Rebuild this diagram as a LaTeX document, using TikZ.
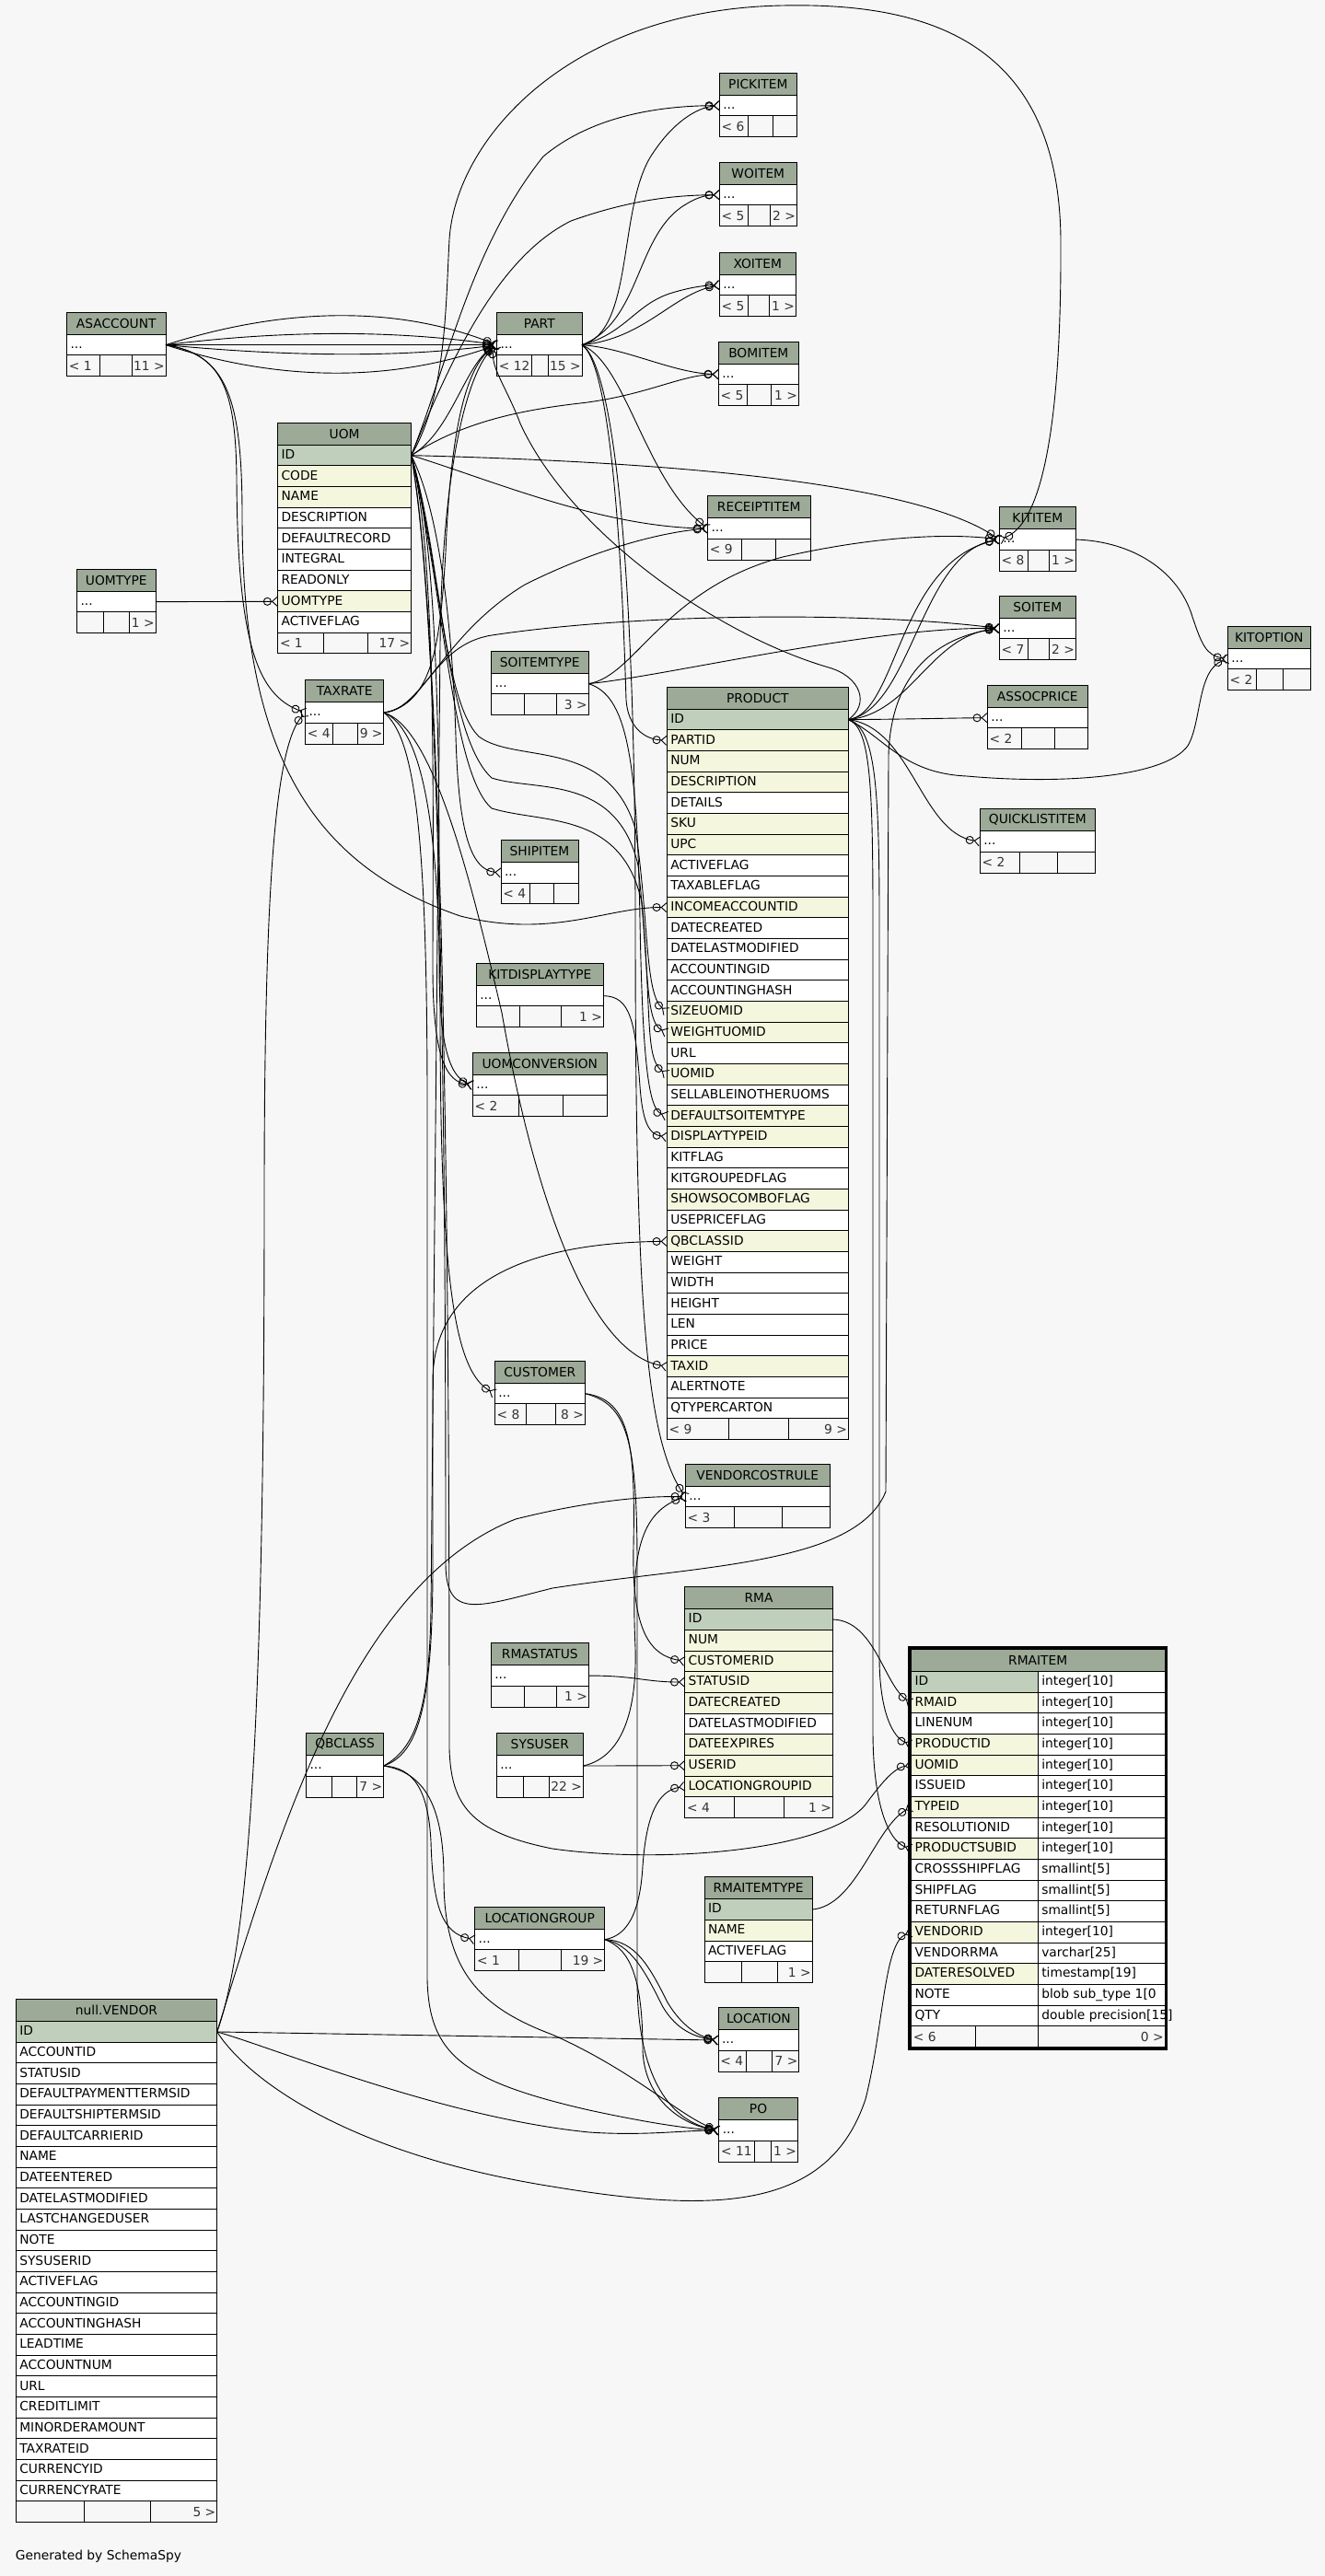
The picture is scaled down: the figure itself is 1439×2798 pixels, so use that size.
\documentclass[tikz,border=0pt]{standalone}
\usepackage{fontspec}
\setmainfont{DejaVu Sans}
\usetikzlibrary{arrows.meta}
\definecolor{pagebg}{HTML}{F7F7F7}
\definecolor{headbg}{HTML}{9CAA97}
\definecolor{keybg}{HTML}{BFCFBB}
\definecolor{idxbg}{HTML}{F4F7DE}
\definecolor{foottext}{HTML}{333333}

\newcommand{\erfont}{\fontsize{6.9pt}{8pt}\selectfont}
\newcommand{\erdots}{...}
% footer texts of a table
\newcommand{\erlr}[2]{%
  \node[footlbl, anchor=west] (\ername-fl) at (\erx+2,\erfy+11.333) {#1};
  \node[footlbl, anchor=east] (\ername-fr) at (\erx+\erw-1,\erfy+11.333) {#2};}
% name, x, y, width, title, rows, divider 1, divider 2, {left}{right}
\newcommand{\ertable}[9]{%
  \def\ername{#1}\def\erx{#2}\def\erw{#4}%
  \pgfmathsetmacro\ertw{#4*0.5-4}%
  \node[headcell, minimum width=#4*0.5pt] (#1) at (#2,#3) {#5};
  \foreach \kind/\txt [count=\i] in {#6}{%
    \node[cell, fill=\kind, text width=\ertw pt] (#1-\i) at (#2,#3+24+\i*22.667-22.667) {\txt};
    \xdef\ern{\i}}
  \pgfmathsetmacro\erfy{#3+24+\ern*22.667}%
  \node[footcell, minimum width=#4*0.5pt] (#1-ft) at (#2,\erfy) {};
  \draw[rule] (#7,\erfy) -- (#7,\erfy+22.667);
  \draw[rule] (#8,\erfy) -- (#8,\erfy+22.667);
  \erlr#9}

\begin{document}
\begin{tikzpicture}[x=0.5pt, y=-0.5pt, font=\erfont,
  headcell/.style={draw, fill=headbg, anchor=north west, minimum height=12pt,
                   inner sep=0pt, outer sep=0pt, line width=0.5pt},
  cell/.style={draw, anchor=north west, inner xsep=2pt, inner ysep=0pt,
               minimum height=11.333pt, text height=5.2pt, text depth=1.4pt,
               align=left, outer sep=0pt, line width=0.5pt},
  footcell/.style={draw, fill=pagebg, anchor=north west, minimum height=11.333pt,
                   inner sep=0pt, outer sep=0pt, line width=0.5pt},
  footlbl/.style={inner sep=0pt, text=foottext},
  rule/.style={line width=0.5pt},
  fk/.style={line width=0.45pt,
    -{Circle[open,length=4.5pt,width=4.5pt] Straight Barb[reversed,length=2.8pt,width=5pt]}}]

\fill[pagebg] (0,0) rectangle (1439,2798);
\useasboundingbox (0,0) rectangle (1439,2798);

% tables
\ertable{asaccount}{72.5}{339.3}{107.5}{ASACCOUNT}{white/\erdots}{108.4}{143.7}{{< 1}{11 >}}
\ertable{part}{539.5}{339.3}{92.5}{PART}{white/\erdots}{577.6}{595.5}{{< 12}{15 >}}
\ertable{pickitem}{781.3}{79.3}{84}{PICKITEM}{white/\erdots}{812.3}{839.3}{{< 6}{}}
\ertable{woitem}{781.3}{176.3}{84}{WOITEM}{white/\erdots}{812.3}{836.3}{{< 5}{2 >}}
\ertable{xoitem}{781.3}{274.3}{83}{XOITEM}{white/\erdots}{812.3}{835.7}{{< 5}{1 >}}
\ertable{bomitem}{780.3}{371.3}{87}{BOMITEM}{white/\erdots}{811.3}{837.3}{{< 5}{1 >}}
\ertable{uom}{301.6}{459.3}{145}{UOM}{keybg/ID, idxbg/CODE, idxbg/NAME, white/DESCRIPTION,
  white/DEFAULTRECORD, white/INTEGRAL, white/READONLY, idxbg/UOMTYPE, white/ACTIVEFLAG}{351}{399.4}{{< 1}{17 >}}
\ertable{receiptitem}{768.5}{538.7}{111.5}{RECEIPTITEM}{white/\erdots}{805}{842}{{< 9}{}}
\ertable{kititem}{1085.3}{550.7}{83}{KITITEM}{white/\erdots}{1116.7}{1139.3}{{< 8}{1 >}}
\ertable{uomtype}{83.6}{618.3}{85.4}{UOMTYPE}{white/\erdots}{112.5}{140.5}{{}{1 >}}
\ertable{soitem}{1085.3}{647.3}{83}{SOITEM}{white/\erdots}{1116.7}{1139.3}{{< 7}{2 >}}
\ertable{kitoption}{1333.3}{680.3}{90}{KITOPTION}{white/\erdots}{1364.3}{1393.3}{{< 2}{}}
\ertable{soitemtype}{533.5}{707.3}{105.5}{SOITEMTYPE}{white/\erdots}{569.3}{604.2}{{}{3 >}}
\ertable{taxrate}{331.5}{738.7}{85.4}{TAXRATE}{white/\erdots}{361.3}{388.4}{{< 4}{9 >}}
\ertable{assocprice}{1072.3}{744.3}{109}{ASSOCPRICE}{white/\erdots}{1109.3}{1145.7}{{< 2}{}}
\ertable{product}{724.3}{746.3}{197}{PRODUCT}{keybg/ID, idxbg/PARTID, idxbg/NUM, idxbg/DESCRIPTION,
  white/DETAILS, idxbg/SKU, idxbg/UPC, white/ACTIVEFLAG, white/TAXABLEFLAG, idxbg/INCOMEACCOUNTID,
  white/DATECREATED, white/DATELASTMODIFIED, white/ACCOUNTINGID, white/ACCOUNTINGHASH,
  idxbg/SIZEUOMID, idxbg/WEIGHTUOMID, white/URL, idxbg/UOMID, white/SELLABLEINOTHERUOMS,
  idxbg/DEFAULTSOITEMTYPE, idxbg/DISPLAYTYPEID, white/KITFLAG, white/KITGROUPEDFLAG,
  idxbg/SHOWSOCOMBOFLAG, white/USEPRICEFLAG, idxbg/QBCLASSID, white/WEIGHT, white/WIDTH,
  white/HEIGHT, white/LEN, white/PRICE, idxbg/TAXID, white/ALERTNOTE, white/QTYPERCARTON}{791.3}{856.7}{{< 9}{9 >}}
\ertable{quicklistitem}{1064.3}{878.7}{125}{QUICKLISTITEM}{white/\erdots}{1107.3}{1148.7}{{< 2}{}}
\ertable{shipitem}{544}{912.6}{84}{SHIPITEM}{white/\erdots}{575.4}{601}{{< 4}{}}
\ertable{kitdisplaytype}{517.3}{1046.3}{138}{KITDISPLAYTYPE}{white/\erdots}{564.3}{609.3}{{}{1 >}}
\ertable{uomconversion}{513.3}{1143.3}{146}{UOMCONVERSION}{white/\erdots}{563.3}{611.7}{{< 2}{}}
\ertable{customer}{537.3}{1478.3}{98}{CUSTOMER}{white/\erdots}{571.7}{603.3}{{< 8}{8 >}}
\ertable{vendorcostrule}{744.3}{1590.3}{157}{VENDORCOSTRULE}{white/\erdots}{797}{849.3}{{< 3}{}}
\ertable{rma}{743.7}{1723.7}{160.6}{RMA}{keybg/ID, idxbg/NUM, idxbg/CUSTOMERID, idxbg/STATUSID,
  idxbg/DATECREATED, white/DATELASTMODIFIED, idxbg/DATEEXPIRES, idxbg/USERID, idxbg/LOCATIONGROUPID}{797}{851.3}{{< 4}{1 >}}
\ertable{rmastatus}{533.3}{1784.7}{106}{RMASTATUS}{white/\erdots}{569.3}{604.3}{{}{1 >}}
\ertable{sysuser}{539.3}{1882.7}{94}{SYSUSER}{white/\erdots}{568.3}{596.7}{{}{22 >}}
\ertable{qbclass}{332.6}{1882.7}{84}{QBCLASS}{white/\erdots}{360.2}{387.4}{{}{7 >}}
\ertable{rmaitemtype}{765}{2038.7}{117}{RMAITEMTYPE}{keybg/ID, idxbg/NAME, white/ACTIVEFLAG}{805}{844.4}{{}{1 >}}
\ertable{locationgroup}{515.7}{2071.3}{141}{LOCATIONGROUP}{white/\erdots}{563.6}{609.6}{{< 1}{19 >}}
\ertable{vendor}{17.3}{2171.6}{218.4}{null.VENDOR}{keybg/ID, white/ACCOUNTID, white/STATUSID,
  white/DEFAULTPAYMENTTERMSID, white/DEFAULTSHIPTERMSID, white/DEFAULTCARRIERID, white/NAME,
  white/DATEENTERED, white/DATELASTMODIFIED, white/LASTCHANGEDUSER, white/NOTE, white/SYSUSERID,
  white/ACTIVEFLAG, white/ACCOUNTINGID, white/ACCOUNTINGHASH, white/LEADTIME, white/ACCOUNTNUM,
  white/URL, white/CREDITLIMIT, white/MINORDERAMOUNT, white/TAXRATEID, white/CURRENCYID,
  white/CURRENCYRATE}{91.3}{163.3}{{}{5 >}}
\ertable{location}{780}{2180.7}{87.8}{LOCATION}{white/\erdots}{810}{838.3}{{< 4}{7 >}}
\ertable{po}{780.8}{2278.7}{85.5}{PO}{white/\erdots}{819.5}{837.2}{{< 11}{1 >}}

% RMAITEM, the table in focus
\node[headcell, minimum width=137.75pt] (rmaitem) at (989.5,1791.5) {RMAITEM};
\foreach \kind/\txt/\dtype [count=\i] in {keybg/ID/integer[10], idxbg/RMAID/integer[10],
    white/LINENUM/integer[10], idxbg/PRODUCTID/integer[10], idxbg/UOMID/integer[10],
    white/ISSUEID/integer[10], idxbg/TYPEID/integer[10], white/RESOLUTIONID/integer[10],
    idxbg/PRODUCTSUBID/integer[10], white/CROSSSHIPFLAG/smallint[5], white/SHIPFLAG/smallint[5],
    white/RETURNFLAG/smallint[5], idxbg/VENDORID/integer[10], white/VENDORRMA/varchar[25],
    idxbg/DATERESOLVED/timestamp[19], white/NOTE/blob~sub\_type~1[0, white/QTY/double~precision[15]}{
  \node[cell, fill=\kind, text width=64.9pt] (rmaitem-\i) at (989.5,1815.5+\i*22.667-22.667) {\txt};
  \node[cell, fill=white, text width=64.85pt] (rmaitem-\i-t) at (1127.3,1815.5+\i*22.667-22.667) {\mbox{\dtype}};}
\node[footcell, minimum width=137.75pt] (rmaitem-ft) at (989.5,2200.8) {};
\draw[rule] (1059.3,2200.8) -- (1059.3,2223.5);
\draw[rule] (1127.3,2200.8) -- (1127.3,2223.5);
\node[footlbl, anchor=west] (rmaitem-fl) at (991.5,2212.2) {< 6};
\node[footlbl, anchor=east] (rmaitem-fr) at (1264,2212.2) {0 >};
\draw[line width=1.5pt] (987.8,1789.8) rectangle (1266.7,2225.2);

% ASACCOUNT
\draw[fk] (asaccount-1.east) .. controls (320,330) and (440,335) .. (part-1.west);
\draw[fk] (asaccount-1.east) .. controls (320,357) and (440,360) .. (part-1.west);
\draw[fk] (asaccount-1.east) -- (part-1.west);
\draw[fk] (asaccount-1.east) .. controls (320,388) and (440,388) .. (part-1.west);
\draw[fk] (asaccount-1.east) .. controls (320,420) and (440,410) .. (part-1.west);
\draw[fk] (asaccount-1.east) .. controls (240,385) and (256,420) .. (257,520)
  .. controls (258,700) and (280,755) .. (taxrate-1.west);
\draw[fk] (asaccount-1.east) .. controls (245,385) and (263,430) .. (263,560)
  .. controls (263,820) and (340,940) .. (500,995) .. controls (600,1020) and (660,985) .. (product-10.west);

% PART
\draw[fk] (part-1.east) .. controls (690,360) and (670,220) .. (710,165)
  .. controls (730,135) and (755,117) .. (pickitem-1.west);
\draw[fk] (part-1.east) .. controls (695,350) and (690,260) .. (740,225)
  .. controls (755,215) and (765,212) .. (woitem-1.west);
\draw[fk] (part-1.east) .. controls (700,368) and (730,320) .. (xoitem-1.west);
\draw[fk] (part-1.east) .. controls (680,362) and (690,330) .. (730,318)
  .. controls (750,312) and (765,310) .. (xoitem-1.west);
\draw[fk] (part-1.east) .. controls (680,378) and (730,405) .. (bomitem-1.west);
\draw[fk] (part-1.east) .. controls (680,395) and (700,520) .. (receiptitem-1.west);
\draw[fk] (part-1.east) .. controls (670,400) and (678,700) .. (680,760)
  .. controls (682,790) and (700,803) .. (product-2.west);
\draw[fk] (part-1.east) .. controls (665,395) and (690,600) .. (690,1000)
  .. controls (690,1400) and (700,1560) .. (vendorcostrule-1.west);

% UOM
\draw[fk] (uomtype-1.east) -- (uom-8.west);
\draw[fk] (uom-1.east) .. controls (490,470) and (505,395) .. (part-1.west);
\draw[fk] (uom-1.east) .. controls (485,400) and (510,270) .. (590,170)
  .. controls (640,128) and (710,115) .. (pickitem-1.west);
\draw[fk] (uom-1.east) .. controls (490,390) and (540,280) .. (620,240)
  .. controls (690,215) and (740,212) .. (woitem-1.west);
\draw[fk] (uom-1.east) .. controls (500,460) and (560,446) .. (630,438)
  .. controls (700,430) and (740,407) .. (bomitem-1.west);
\draw[fk] (uom-1.east) .. controls (650,500) and (980,515) .. (kititem-1.west);
\draw[fk] (uom-1.east) .. controls (530,520) and (650,572) .. (receiptitem-1.west);
\draw[fk] (uom-1.east) .. controls (485,430) and (484,330) .. (488,260)
  .. controls (495,150) and (620,10) .. (850,6) .. controls (1000,3) and (1150,40) .. (1152,260)
  .. controls (1153,470) and (1130,570) .. (kititem-1.west);
\draw[fk] (uom-1.east) .. controls (480,560) and (492,700) .. (495,800)
  .. controls (498,900) and (510,945) .. (shipitem-1.west);
\draw[fk] (uom-1.east) .. controls (475,600) and (470,900) .. (470,1050)
  .. controls (470,1150) and (485,1175) .. (uomconversion-1.west);
\draw[fk] (uom-1.east) .. controls (480,600) and (477,900) .. (477,1050)
  .. controls (477,1140) and (490,1170) .. (uomconversion-1.west);
\draw[fk] (uom-1.east) .. controls (478,600) and (480,760) .. (520,800)
  .. controls (560,830) and (660,800) .. (690,900) .. controls (705,1000) and (700,1080) .. (product-15.west);
\draw[fk] (uom-1.east) .. controls (480,620) and (485,800) .. (534,845)
  .. controls (580,860) and (670,840) .. (693,940) .. controls (705,1050) and (700,1110) .. (product-16.west);
\draw[fk] (uom-1.east) .. controls (482,640) and (490,840) .. (534,878)
  .. controls (590,895) and (675,880) .. (697,980) .. controls (708,1100) and (700,1150) .. (product-18.west);
\draw[fk] (uom-1.east) .. controls (485,700) and (488,1500) .. (488,1900)
  .. controls (490,1960) and (510,1990) .. (600,2008) .. controls (720,2025) and (900,2010) .. (940,1960)
  .. controls (955,1940) and (970,1920) .. (rmaitem-5.west);
\draw[fk] (uom-1.east) .. controls (483,700) and (484,1400) .. (484,1700)
  .. controls (485,1760) and (520,1745) .. (600,1725) .. controls (760,1700) and (930,1700) .. (962,1620)
  -- (965,820) .. controls (968,720) and (1030,690) .. (soitem-1.west);

% TAXRATE
\draw[fk] (taxrate-1.east) .. controls (470,765) and (478,700) .. (484,600)
  .. controls (490,450) and (510,395) .. (part-1.west);
\draw[fk] (taxrate-1.east) .. controls (470,790) and (510,950) .. (545,1100)
  .. controls (580,1300) and (640,1470) .. (product-32.west);
\draw[fk] (taxrate-1.east) .. controls (460,770) and (470,700) .. (534,690)
  .. controls (700,665) and (950,665) .. (soitem-1.west);
\draw[fk] (taxrate-1.east) .. controls (460,770) and (480,690) .. (570,635)
  .. controls (650,595) and (720,578) .. (receiptitem-1.west);
\draw[fk] (taxrate-1.east) .. controls (455,790) and (478,880) .. (478,1100)
  .. controls (478,1400) and (495,1490) .. (customer-1.west);
\draw[fk] (taxrate-1.east) .. controls (450,800) and (464,900) .. (464,1200) -- (464,2150)
  .. controls (466,2230) and (500,2260) .. (640,2292) .. controls (700,2305) and (745,2312) .. (po-1.west);

% SOITEMTYPE, KITDISPLAYTYPE
\draw[fk] (soitemtype-1.east) .. controls (720,735) and (950,680) .. (soitem-1.west);
\draw[fk] (soitemtype-1.east) .. controls (690,735) and (720,640) .. (850,605)
  .. controls (960,580) and (1040,580) .. (kititem-1.west);
\draw[fk] (soitemtype-1.east) .. controls (680,755) and (692,820) .. (695,1000)
  .. controls (698,1160) and (705,1205) .. (product-20.west);
\draw[fk] (kitdisplaytype-1.east) .. controls (685,1082) and (690,1110) .. (695,1180)
  .. controls (698,1220) and (705,1232) .. (product-21.west);

% PRODUCT
\draw[fk] (product-1.east) .. controls (975,775) and (975,610) .. (kititem-1.west);
\draw[fk] (product-1.east) .. controls (990,770) and (1000,600) .. (kititem-1.west);
\draw[fk] (product-1.east) .. controls (990,775) and (1010,690) .. (soitem-1.west);
\draw[fk] (product-1.east) .. controls (1000,781) and (1030,780) .. (assocprice-1.west);
\draw[fk] (product-1.east) .. controls (990,790) and (1000,905) .. (quicklistitem-1.west);
\draw[fk] (product-1.east) .. controls (960,800) and (980,840) .. (1050,843)
  .. controls (1150,852) and (1265,845) .. (1290,810) .. controls (1305,785) and (1300,728) .. (kitoption-1.west);
\draw[fk] (product-1.east) .. controls (950,790) and (955,850) .. (955,1000) -- (955,1800)
  .. controls (955,1860) and (970,1888) .. (rmaitem-4.west);
\draw[fk] (product-1.east) .. controls (945,790) and (948,850) .. (948,1000) -- (948,1880)
  .. controls (948,1960) and (965,2000) .. (rmaitem-9.west);
\draw[fk] (product-1.east) .. controls (945,765) and (935,735) .. (900,725)
  .. controls (780,690) and (620,580) .. (565,460) .. controls (550,420) and (530,395) .. (part-1.west);
\draw[fk] (kititem-1.east) .. controls (1230,588) and (1280,620) .. (1295,670)
  .. controls (1305,700) and (1310,712) .. (kitoption-1.west);

% RMA and its parents
\draw[fk] (rma-1.east) .. controls (950,1760) and (960,1830) .. (rmaitem-2.west);
\draw[fk] (rmaitemtype-1.east) .. controls (930,2070) and (950,1985) .. (rmaitem-7.west);
\draw[fk] (customer-1.east) .. controls (685,1520) and (690,1570) .. (688,1680)
  .. controls (686,1770) and (705,1798) .. (rma-3.west);
\draw[fk] (customer-1.east) .. controls (680,1525) and (692,1560) .. (692,1700) -- (692,2150)
  .. controls (692,2260) and (730,2305) .. (po-1.west);
\draw[fk] (rmastatus-1.east) .. controls (690,1820) and (700,1827) .. (rma-4.west);
\draw[fk] (sysuser-1.east) -- (rma-8.west);
\draw[fk] (sysuser-1.east) .. controls (670,1910) and (692,1870) .. (690,1790)
  .. controls (686,1700) and (690,1645) .. (vendorcostrule-1.west);

% LOCATIONGROUP, QBCLASS
\draw[fk] (locationgroup-1.east) .. controls (680,2103) and (695,2080) .. (698,2027)
  .. controls (702,1970) and (715,1945) .. (rma-9.west);
\draw[fk] (locationgroup-1.east) .. controls (685,2112) and (700,2140) .. (720,2180)
  .. controls (735,2205) and (755,2213) .. (location-1.west);
\draw[fk] (locationgroup-1.east) .. controls (690,2108) and (705,2135) .. (725,2175)
  .. controls (740,2200) and (758,2212) .. (location-1.west);
\draw[fk] (locationgroup-1.east) .. controls (685,2117) and (698,2150) .. (698,2227)
  .. controls (700,2280) and (740,2308) .. (po-1.west);
\draw[fk] (qbclass-1.east) .. controls (450,1920) and (465,1945) .. (468,2000)
  .. controls (470,2070) and (480,2100) .. (locationgroup-1.west);
\draw[fk] (qbclass-1.east) .. controls (460,1925) and (482,1960) .. (482,2040)
  .. controls (482,2140) and (520,2180) .. (600,2210) .. controls (690,2250) and (740,2300) .. (po-1.west);
\draw[fk] (qbclass-1.east) .. controls (455,1905) and (470,1850) .. (470,1700) -- (470,1500)
  .. controls (470,1400) and (560,1350) .. (product-26.west);
\draw[fk] (qbclass-1.east) .. controls (450,1900) and (466,1860) .. (468,1750) -- (478,700)
  .. controls (480,500) and (510,400) .. (part-1.west);

% null.VENDOR
\draw[fk] (vendor-1.east) .. controls (300,2000) and (380,1720) .. (560,1650)
  .. controls (640,1630) and (700,1625) .. (vendorcostrule-1.west);
\draw[fk] (vendor-1.east) .. controls (275,2100) and (287,1800) .. (287,1300)
  .. controls (287,950) and (300,810) .. (taxrate-1.west);
\draw[fk] (vendor-1.east) -- (location-1.west);
\draw[fk] (vendor-1.east) .. controls (300,2225) and (480,2300) .. (640,2316)
  .. controls (700,2320) and (740,2314) .. (po-1.west);
\draw[fk] (vendor-1.east) .. controls (270,2260) and (380,2340) .. (600,2375)
  .. controls (780,2405) and (900,2400) .. (940,2280) .. controls (960,2200) and (960,2110) .. (rmaitem-13.west);

\node[anchor=west, inner sep=0pt] (credit) at (16.5,2777) {Generated by SchemaSpy};
\end{tikzpicture}
\end{document}
